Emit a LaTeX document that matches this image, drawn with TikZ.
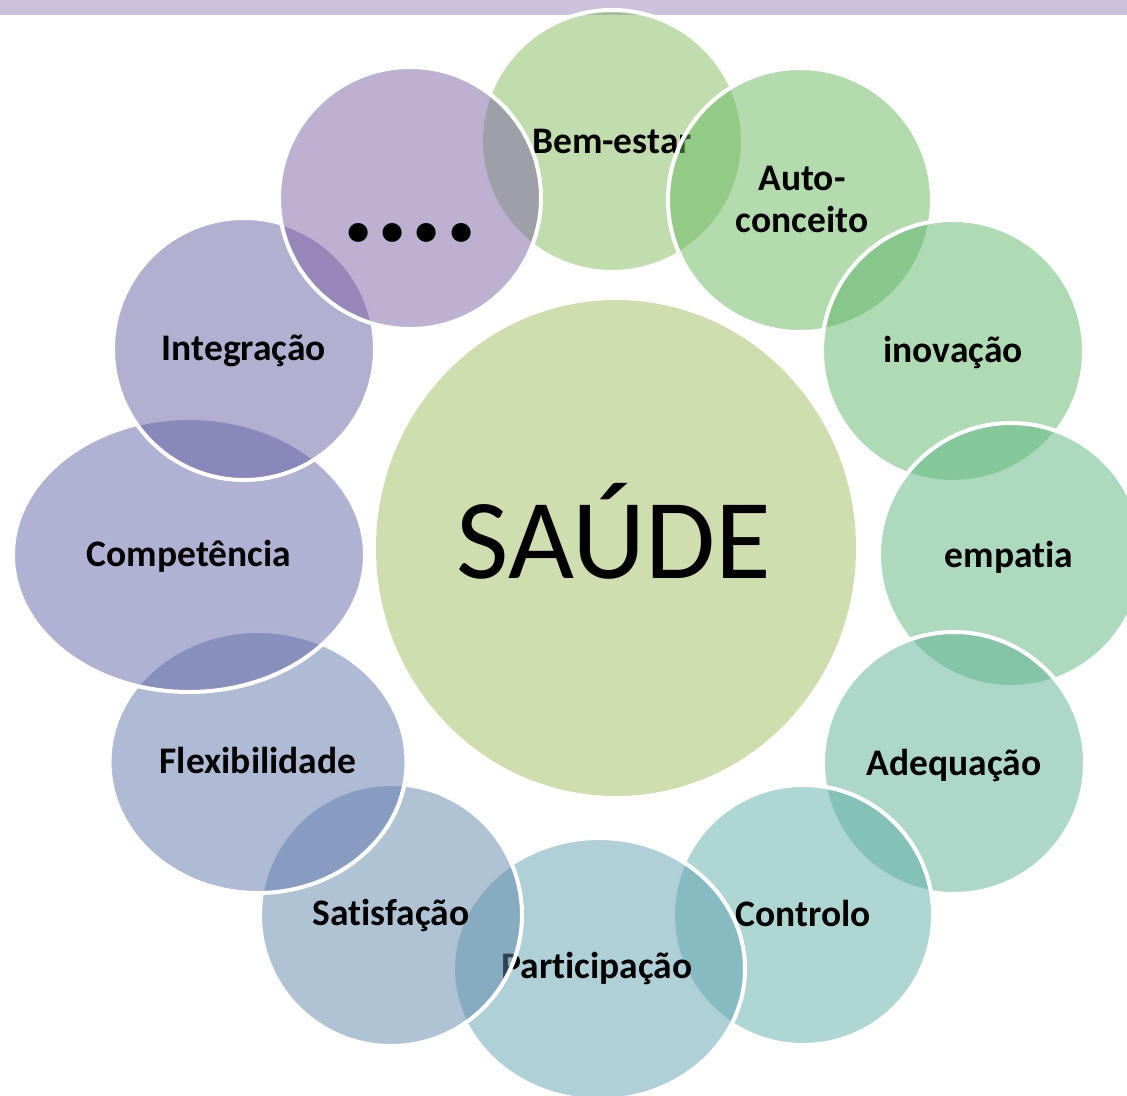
\documentclass[tikz,border=0pt]{standalone}
\usepackage{fontspec}
\setmainfont{Carlito}[Ligatures=NoCommon]
\usetikzlibrary{shapes.geometric}
\definecolor{bandc}{RGB}{203,193,219}
\definecolor{cmid}{RGB}{206,222,174}
\definecolor{c01}{RGB}{131,187,93}
\definecolor{c02}{RGB}{103,183,93}
\definecolor{c03}{RGB}{93,181,105}
\definecolor{c04}{RGB}{91,181,125}
\definecolor{c05}{RGB}{91,177,147}
\definecolor{c06}{RGB}{93,173,167}
\definecolor{c07}{RGB}{95,161,175}
\definecolor{c08}{RGB}{95,135,171}
\definecolor{c09}{RGB}{95,119,171}
\definecolor{c10}{RGB}{95,101,167}
\definecolor{c11}{RGB}{103,95,161}
\definecolor{c12}{RGB}{125,97,163}
\tikzset{
  bub/.style={ellipse, inner sep=0pt, outer sep=0pt, draw=white, line width=4pt, fill opacity=0.5},
  lbl/.style={anchor=base, inner sep=0pt, text=black, font=\fontsize{37.5}{42}\selectfont\bfseries, align=center},
}
\begin{document}
\begin{tikzpicture}[x=1pt,y=-1pt]
\useasboundingbox (0,0) rectangle (1127,1095);
\clip (0,0) rectangle (1127,1095);
\fill[bandc] (0,0) rectangle (1127,15);
% centre
\node[ellipse, inner sep=0pt, fill=cmid, minimum width=480pt, minimum height=496pt] (saude) at (616,548) {};
\node[anchor=base, inner sep=0pt, font=\fontsize{114}{120}\selectfont] (saudet) at ([yshift=-30pt,xshift=-2pt]saude.center) {SAÚDE};
% ring
\node[bub, fill=c01, minimum width=262pt, minimum height=262pt] (b01) at (612,141) {};
\node[lbl] (t01) at ([yshift=-12pt]b01.center) {Bem-estar};
\node[bub, fill=c02, minimum width=264pt, minimum height=264pt] (b02) at (800,200) {};
\node[lbl] (t02) at ([yshift=-32pt,xshift=2pt]b02.center) {Auto-\\conceito};
\node[bub, fill=c03, minimum width=262pt, minimum height=262pt] (b03) at (953,351) {};
\node[lbl] (t03) at ([yshift=-11pt]b03.center) {inovação};
\node[bub, fill=c04, minimum width=264pt, minimum height=264pt] (b04) at (1011,555) {};
\node[lbl] (t04) at ([yshift=-12pt,xshift=-2pt]b04.center) {empatia};
\node[bub, fill=c05, minimum width=262pt, minimum height=262pt] (b05) at (954,763) {};
\node[lbl] (t05) at ([yshift=-12pt]b05.center) {Adequação};
\node[bub, fill=c06, minimum width=260pt, minimum height=260pt] (b06) at (803,915) {};
\node[lbl] (t06) at ([yshift=-11pt]b06.center) {Controlo};
\node[bub, fill=c07, minimum width=292pt, minimum height=262pt] (b07) at (599,969) {};
\node[lbl] (t07) at ([yshift=-9pt,xshift=-2pt]b07.center) {Participação};
\node[bub, fill=c08, minimum width=262pt, minimum height=262pt] (b08) at (391,915) {};
\node[lbl] (t08) at ([yshift=-10pt]b08.center) {Satisfação};
\node[bub, fill=c09, minimum width=297pt, minimum height=262pt] (b09) at (258,762) {};
\node[lbl] (t09) at ([yshift=-11pt]b09.center) {Flexibilidade};
\node[bub, fill=c10, minimum width=352pt, minimum height=274pt] (b10) at (189,555) {};
\node[lbl] (t10) at ([yshift=-11pt]b10.center) {Competência};
\node[bub, fill=c11, minimum width=262pt, minimum height=262pt] (b11) at (244,349) {};
\node[lbl] (t11) at ([yshift=-11pt]b11.center) {Integração};
\node[bub, fill=c12, minimum width=262pt, minimum height=262pt] (b12) at (410,198) {};
\node[lbl, font=\fontsize{128}{130}\selectfont\bfseries] (t12) at ([yshift=-43pt]b12.center) {....};
\end{tikzpicture}
\end{document}
